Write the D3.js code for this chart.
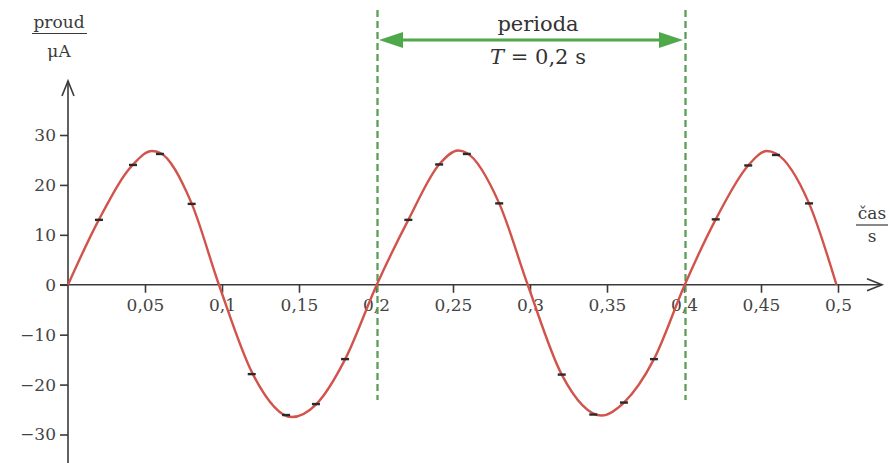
<!DOCTYPE html>
<html><head><meta charset="utf-8">
<script src="https://cdn.jsdelivr.net/npm/d3@7"></script>
<style>html,body{margin:0;padding:0;background:#fff}svg{display:block}</style>
</head><body>
<svg id="c" width="892" height="463"></svg>
<script>
// Data
const curveT = [0, 0.02, 0.042, 0.0545, 0.06, 0.08, 0.098, 0.12, 0.1453, 0.161, 0.18, 0.2005,
  0.221, 0.241, 0.2534, 0.259, 0.28, 0.2985, 0.3206, 0.3466, 0.361, 0.3805, 0.4005,
  0.4206, 0.4417, 0.4537, 0.4597, 0.4812, 0.499];
const curveI = [0, 13.0, 24.0, 26.8, 26.4, 16.5, 0, -17.9, -26.5, -24.0, -14.9, 0,
  13.0, 24.1, 26.9, 26.4, 16.3, 0, -18.0, -26.2, -23.6, -14.9, 0,
  13.1, 23.9, 26.8, 26.3, 16.3, 0];
const markT = [0.0201, 0.0422, 0.0597, 0.0803, 0.1193, 0.1416, 0.161, 0.1799,
  0.221, 0.241, 0.259, 0.280, 0.3206, 0.3411, 0.361, 0.3805,
  0.4206, 0.4417, 0.4597, 0.4812];
const markI = [13.0, 24.0, 26.2, 16.2, -17.9, -26.1, -23.9, -14.9,
  13.0, 24.1, 26.2, 16.3, -18.0, -26.0, -23.6, -14.9,
  13.1, 23.9, 26.0, 16.3];
const xTicks = [0.05, 0.1, 0.15, 0.2, 0.25, 0.3, 0.35, 0.4, 0.45, 0.5];
const yTicks = [-30, -20, -10, 0, 10, 20, 30];
const periodStart = 0.2, periodEnd = 0.4;
const yLabel = ["proud", "μA"], xLabel = ["čas", "s"];
const periodText = ["perioda", "T = 0,2 s"];

const svg = d3.select("#c");
const x = d3.scaleLinear().domain([0, 0.5]).range([68, 838]);
const y = d3.scaleLinear().domain([-30, 30]).range([434.5, 135]);
const ink = "#3a3a3a";
const font = "DejaVu Serif";
const fmt = d => String(d).replace(".", ",").replace("-", "\u2212");

// Y axis
const ya = svg.append("g").attr("transform", `translate(${x(0)},0)`)
  .call(d3.axisLeft(y).tickValues(yTicks).tickSize(8).tickPadding(4).tickFormat(fmt));
ya.select(".domain").remove();
ya.selectAll(".tick line").attr("stroke", ink).attr("stroke-width", 1.6);
ya.selectAll(".tick text").attr("fill", "#444").style("font-family", font).style("font-size", "17px");
svg.append("line").attr("x1", x(0)).attr("x2", x(0)).attr("y1", 81).attr("y2", 463)
  .attr("stroke", ink).attr("stroke-width", 1.6);
svg.append("path").attr("d", `M${x(0)-6},${96} L${x(0)},${81} L${x(0)+6},${96}`)
  .attr("fill", "none").attr("stroke", ink).attr("stroke-width", 1.6);

// X axis
const xa = svg.append("g").attr("transform", `translate(0,${y(0)})`)
  .call(d3.axisBottom(x).tickValues(xTicks).tickSize(8).tickPadding(6).tickFormat(fmt));
xa.select(".domain").remove();
xa.selectAll(".tick line").attr("stroke", ink).attr("stroke-width", 1.6);
xa.selectAll(".tick text").attr("fill", "#444").style("font-family", font).style("font-size", "17px");
svg.append("line").attr("x1", 60).attr("x2", 882).attr("y1", y(0)).attr("y2", y(0))
  .attr("stroke", ink).attr("stroke-width", 1.6);
svg.append("path").attr("d", `M${867},${y(0)-6} L${882},${y(0)} L${867},${y(0)+6}`)
  .attr("fill", "none").attr("stroke", ink).attr("stroke-width", 1.6);

// Axis labels
const yl = svg.append("g").attr("fill", ink).style("font-family", font).style("font-size", "17px").attr("text-anchor", "middle");
yl.append("text").attr("x", 59).attr("y", 28).text(yLabel[0]);
yl.append("line").attr("x1", 32).attr("x2", 87).attr("y1", 33.5).attr("y2", 33.5).attr("stroke", ink).attr("stroke-width", 1.2);
yl.append("text").attr("x", 59).attr("y", 57).text(yLabel[1]);
const xl = svg.append("g").attr("fill", ink).style("font-family", font).style("font-size", "17px").attr("text-anchor", "middle");
xl.append("text").attr("x", 872).attr("y", 219).text(xLabel[0]);
xl.append("line").attr("x1", 856).attr("x2", 888).attr("y1", 225).attr("y2", 225).attr("stroke", ink).attr("stroke-width", 1.2);
xl.append("text").attr("x", 872).attr("y", 242).text(xLabel[1]);

// Period markers
const green = "#4fa84a";
[periodStart, periodEnd].forEach(t => {
  svg.append("line").attr("x1", x(t) + 1.5).attr("x2", x(t) + 1.5).attr("y1", 10).attr("y2", 400)
    .attr("stroke", "#5b9e57").attr("stroke-width", 2.3).attr("stroke-dasharray", "7,4");
});
const ax1 = x(periodStart) + 3, ax2 = x(periodEnd) - 1, ay = 40;
svg.append("line").attr("x1", ax1 + 16).attr("x2", ax2 - 16).attr("y1", ay).attr("y2", ay)
  .attr("stroke", green).attr("stroke-width", 3);
svg.append("path").attr("d", `M${ax1},${ay} L${ax1+24},${ay-8} L${ax1+24},${ay+8} Z`).attr("fill", green);
svg.append("path").attr("d", `M${ax2},${ay} L${ax2-24},${ay-8} L${ax2-24},${ay+8} Z`).attr("fill", green);
const pt = svg.append("g").attr("fill", "#333").style("font-family", font).style("font-size", "21px").attr("text-anchor", "middle");
pt.append("text").attr("x", 538).attr("y", 31).text(periodText[0]);
const t2 = pt.append("text").attr("x", 538).attr("y", 64);
t2.append("tspan").style("font-style", "italic").text("T");
t2.append("tspan").text(periodText[1].slice(1));

// Curve
const pts = curveT.map((t, i) => [t, curveI[i]]);
svg.append("path").datum(pts)
  .attr("d", d3.line().x(d => x(d[0])).y(d => y(d[1])).curve(d3.curveMonotoneX))
  .attr("fill", "none").attr("stroke", "#d2534c").attr("stroke-width", 2.4);

// Measured points (short dashes)
svg.append("g").selectAll("line").data(markT.map((t, i) => [t, markI[i]])).join("line")
  .attr("x1", d => x(d[0]) - 4).attr("x2", d => x(d[0]) + 4)
  .attr("y1", d => y(d[1])).attr("y2", d => y(d[1]))
  .attr("stroke", "#2a2a2a").attr("stroke-width", 2.4);
</script>
</body></html>
